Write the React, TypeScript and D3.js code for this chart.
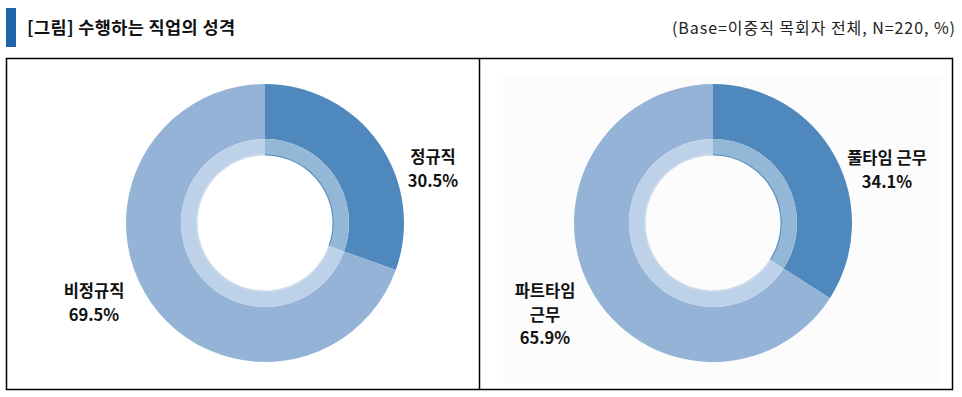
import { arc, pie, PieArcDatum } from "d3";

const leftCategories = ["정규직", "비정규직"];
const leftValues = [30.5, 69.5];
const rightCategories = ["풀타임 근무", "파트타임 근무"];
const rightValues = [34.1, 65.9];

const title = "[그림] 수행하는 직업의 성격";
const subtitle = "(Base=이중직 목회자 전체, N=220, %)";

const outerColors = ["#4e88bc", "#95b3d7"];
const ringColors = ["#93b7d7", "#bdd1e8"];

const FONT = "'Noto Sans CJK KR', 'Noto Sans', sans-serif";

type Label = { lines: string[]; x: number; y: number };

const Donut = ({
  cx,
  cy,
  values,
  labels,
}: {
  cx: number;
  cy: number;
  values: number[];
  labels: Label[];
}) => {
  const R = 139;
  const ringR = 84;
  const holeR = 69;
  const arcs = pie<number>().sort(null).value((d) => d)(values);
  const outer = arc<PieArcDatum<number>>().innerRadius(ringR).outerRadius(R);
  const ring = arc<PieArcDatum<number>>().innerRadius(holeR).outerRadius(ringR);
  const edge = arc<PieArcDatum<number>>().innerRadius(holeR - 1.5).outerRadius(holeR);

  return (
    <g>
      <g transform={`translate(${cx},${cy})`}>
        {arcs.map((a, i) => (
          <path key={"o" + i} d={outer(a) || ""} fill={outerColors[i]} />
        ))}
        {arcs.map((a, i) => (
          <path key={"r" + i} d={ring(a) || ""} fill={ringColors[i]} />
        ))}
        {arcs.map((a, i) => (
          <path key={"e" + i} d={edge(a) || ""} fill={outerColors[i]} opacity={i === 0 ? 0.9 : 0.5} />
        ))}
      </g>
      {labels.map((l, i) => (
        <text
          key={i}
          x={l.x}
          y={l.y}
          textAnchor="middle"
          fontFamily={FONT}
          fontWeight="bold"
          fontSize={16.5}
          fill="#111"
        >
          {l.lines.map((t, j) => (
            <tspan key={j} x={l.x} dy={j === 0 ? 0 : 23.5}>
              {t}
            </tspan>
          ))}
        </text>
      ))}
    </g>
  );
};

const App = () => {
  const width = 962;
  const height = 397;
  const pct = (v: number) => `${v.toFixed(1)}%`;

  return (
    <svg
      width={width}
      height={height}
      style={{ position: "absolute", left: 0, top: 0, background: "#fff" }}
    >
      <rect x={6} y={8} width={10} height={39} fill="#1f63ad" />
      <text
        x={27}
        y={34}
        fontFamily={FONT}
        fontWeight="bold"
        fontSize={17.5}
        fill="#111"
        textLength={208}
        lengthAdjust="spacing"
      >
        {title}
      </text>
      <text
        x={672}
        y={34}
        fontFamily={FONT}
        fontSize={16}
        fill="#222"
        textLength={283}
        lengthAdjust="spacing"
      >
        {subtitle}
      </text>

      <rect x={503} y={75} width={439} height={308} fill="#fcfcfc" />
      <rect x={6.5} y={58.5} width={946} height={331} fill="none" stroke="#000" strokeWidth={1.5} />
      <line x1={479.5} y1={58.5} x2={479.5} y2={389.5} stroke="#000" strokeWidth={1.5} />

      <Donut
        cx={265}
        cy={223}
        values={leftValues}
        labels={[
          { lines: [leftCategories[0], pct(leftValues[0])], x: 433, y: 163 },
          { lines: [leftCategories[1], pct(leftValues[1])], x: 94, y: 297 },
        ]}
      />
      <Donut
        cx={713}
        cy={223}
        values={rightValues}
        labels={[
          { lines: [rightCategories[0], pct(rightValues[0])], x: 887, y: 164 },
          { lines: ["파트타임", "근무", pct(rightValues[1])], x: 545, y: 297 },
        ]}
      />
    </svg>
  );
};

export default App;
